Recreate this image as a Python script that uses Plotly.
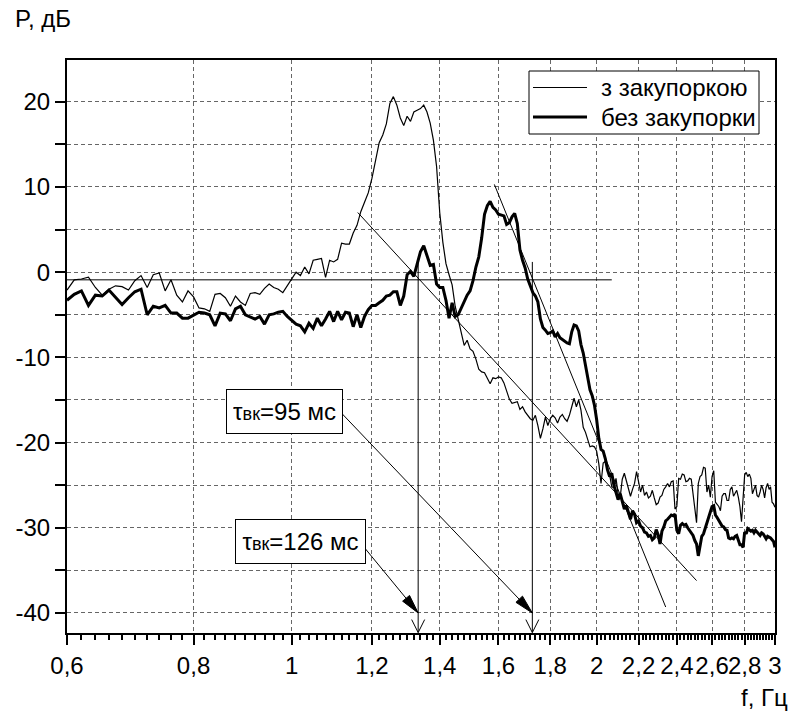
import math
import plotly.graph_objects as go

# ---------------- data ----------------
freq = [0.60, 0.61, 0.62, 0.63, 0.64, 0.65, 0.66, 0.67, 0.68, 0.69,
        0.70, 0.71, 0.72, 0.73, 0.74, 0.75, 0.76, 0.77, 0.78, 0.79,
        0.80, 0.81, 0.82, 0.83, 0.84, 0.85, 0.86, 0.87, 0.88, 0.89,
        0.90, 0.91, 0.92, 0.93, 0.94, 0.95, 0.96, 0.97, 0.98, 0.99,
        1.00, 1.01, 1.02, 1.03, 1.04, 1.05, 1.06, 1.07, 1.08, 1.09,
        1.10, 1.11, 1.12, 1.13, 1.14, 1.15, 1.16, 1.17, 1.18, 1.19,
        1.20, 1.21, 1.22, 1.23, 1.24, 1.25, 1.26, 1.27, 1.28, 1.29,
        1.30, 1.31, 1.32, 1.33, 1.34, 1.35, 1.36, 1.37, 1.38, 1.39,
        1.40, 1.41, 1.42, 1.43, 1.44, 1.45, 1.46, 1.47, 1.48, 1.49,
        1.50, 1.51, 1.52, 1.53, 1.54, 1.55, 1.56, 1.57, 1.58, 1.59,
        1.60, 1.61, 1.62, 1.63, 1.64, 1.65, 1.66, 1.67, 1.68, 1.69,
        1.70, 1.71, 1.72, 1.73, 1.74, 1.75, 1.76, 1.77, 1.78, 1.79,
        1.80, 1.81, 1.82, 1.83, 1.84, 1.85, 1.86, 1.87, 1.88, 1.89,
        1.90, 1.91, 1.92, 1.93, 1.94, 1.95, 1.96, 1.97, 1.98, 1.99,
        2.00, 2.01, 2.02, 2.03, 2.04, 2.05, 2.06, 2.07, 2.08, 2.09,
        2.10, 2.11, 2.12, 2.13, 2.14, 2.15, 2.16, 2.17, 2.18, 2.19,
        2.20, 2.21, 2.22, 2.23, 2.24, 2.25, 2.26, 2.27, 2.28, 2.29,
        2.30, 2.31, 2.32, 2.33, 2.34, 2.35, 2.36, 2.37, 2.38, 2.39,
        2.40, 2.41, 2.42, 2.43, 2.44, 2.45, 2.46, 2.47, 2.48, 2.49,
        2.50, 2.51, 2.52, 2.53, 2.54, 2.55, 2.56, 2.57, 2.58, 2.59,
        2.60, 2.61, 2.62, 2.63, 2.64, 2.65, 2.66, 2.67, 2.68, 2.69,
        2.70, 2.71, 2.72, 2.73, 2.74, 2.75, 2.76, 2.77, 2.78, 2.79,
        2.80, 2.81, 2.82, 2.83, 2.84, 2.85, 2.86, 2.87, 2.88, 2.89,
        2.90, 2.91, 2.92, 2.93, 2.94, 2.95, 2.96, 2.97, 2.98, 2.99,
        3.00]

# "з закупоркою" (thin line), dB
p_with = [-2.1, -0.9, -0.8, -0.6, -1.8, -2.7, -2.0, -1.6, -1.7, -2.1,
          -1.0, -0.4, -1.8, -0.3, -0.1, -2.2, -0.9, -2.7, -3.5, -2.2,
          -2.9, -4.2, -4.3, -4.6, -2.6, -2.5, -3.0, -4.0, -2.8, -3.5,
          -3.9, -2.5, -2.4, -2.6, -1.9, -1.4, -1.8, -2.0, -2.4, -1.6,
          -0.8, 0.0, -0.4, 0.6, -0.2, 1.4, 1.5, 1.6, -0.6, 1.4,
          1.2, 1.5, 3.4, 3.3, 3.3, 4.6, 5.5, 7.1, 8.2, 9.3,
          11.0, 13.3, 15.2, 16.1, 17.4, 19.8, 20.6, 19.6, 18.1, 17.2,
          18.3, 17.7, 18.8, 19.0, 19.2, 19.6, 18.8, 17.5, 15.5, 12.4,
          7.0, 3.5, 1.0, -0.3, -1.5, -4.0, -5.6, -6.8, -8.6, -8.0,
          -9.0, -9.3, -10.2, -11.4, -11.7, -11.8, -12.5, -13.1, -12.4, -12.5,
          -12.3, -12.4, -13.0, -13.9, -14.9, -15.4, -15.3, -15.2, -16.1, -15.8,
          -16.4, -16.8, -17.2, -17.4, -16.8, -18.0, -19.5, -18.4, -17.0, -18.0,
          -17.2, -16.8, -17.1, -17.7, -17.0, -16.7, -17.2, -17.5, -16.8, -15.8,
          -14.8, -15.8, -15.0, -16.2, -18.2, -18.8, -19.6, -20.5, -20.4, -20.5,
          -21.0, -22.5, -24.8, -22.4, -22.2, -23.0, -23.8, -25.2, -25.3, -24.2,
          -26.0, -26.4, -24.3, -23.6, -24.5, -25.3, -26.3, -25.5, -24.8, -23.4,
          -24.5, -25.8, -25.0, -26.2, -25.8, -26.5, -26.3, -25.6, -26.5, -27.3,
          -27.1, -26.4, -26.2, -25.5, -25.2, -24.8, -25.2, -24.6, -24.5, -27.8,
          -27.5, -24.2, -24.3, -23.7, -23.8, -24.6, -24.5, -24.2, -24.3, -26.0,
          -27.5, -29.4, -24.8, -24.0, -23.8, -22.9, -23.0, -25.8, -25.0, -26.4,
          -24.0, -23.3, -27.0, -27.2, -27.5, -28.0, -26.3, -26.0, -26.0, -26.8,
          -26.8, -25.5, -25.2, -26.3, -26.0, -25.6, -26.4, -27.5, -29.3, -26.0,
          -23.8, -23.5, -24.0, -23.7, -24.2, -26.0, -25.5, -25.0, -26.2, -26.4,
          -25.8, -25.0, -25.5, -26.5, -25.3, -24.8, -25.5, -25.2, -27.0, -27.2,
          -27.6]

# "без закупорки" (thick line), dB
p_without = [-3.3, -2.6, -2.2, -3.9, -2.7, -2.8, -2.1, -2.9, -3.8, -3.0,
             -2.3, -2.0, -5.0, -4.0, -4.2, -3.9, -4.8, -4.8, -5.4, -5.4,
             -5.0, -4.7, -4.8, -5.0, -6.3, -4.8, -4.9, -5.7, -4.3, -4.0,
             -5.0, -5.3, -5.5, -5.2, -6.1, -5.0, -4.9, -4.7, -4.6, -5.2,
             -5.6, -6.1, -6.3, -7.0, -6.0, -6.6, -5.4, -6.3, -5.5, -4.6,
             -5.8, -4.6, -5.6, -4.7, -4.8, -6.4, -5.0, -6.5, -5.2, -4.4,
             -3.9, -3.9, -3.6, -3.3, -2.8, -2.7, -2.3, -2.3, -3.9, -2.8,
             -0.3, 0.1, -0.5, 1.1, 2.4, 3.1, 2.0, 0.8, 0.9, -1.4,
             -1.8, -1.8, -3.3, -5.4, -3.6, -5.2, -5.0, -4.2, -3.5, -2.7,
             -2.2, -1.0, 0.6, 1.8, 4.0, 6.8, 7.8, 8.3, 7.6, 7.3,
             6.8, 6.7, 6.6, 5.6, 5.8, 6.5, 6.9, 5.7, 2.6, 1.4,
             0.5, -0.8, -1.7, -2.4, -2.8, -3.5, -5.5, -6.5, -6.8, -7.2,
             -7.1, -6.9, -7.6, -7.2, -7.7, -7.9, -8.2, -8.3, -8.4, -7.0,
             -6.2, -6.3, -6.9, -8.5, -9.5, -11.0, -12.2, -13.8, -14.5, -15.6,
             -17.3, -19.5, -20.8, -21.0, -21.9, -23.2, -24.0, -23.6, -25.0, -25.8,
             -26.7, -26.0, -26.9, -27.8, -27.4, -28.2, -29.0, -28.0, -28.4, -29.4,
             -29.2, -29.8, -30.0, -30.5, -30.6, -31.0, -30.9, -31.4, -31.2, -30.2,
             -30.8, -31.9, -30.4, -29.9, -29.2, -29.0, -28.8, -28.5, -28.6, -28.4,
             -30.3, -30.7, -29.7, -29.5, -29.7, -29.6, -30.0, -30.3, -30.6, -30.9,
             -31.5, -31.9, -33.3, -32.2, -31.0, -30.7, -30.0, -29.5, -28.8, -28.0,
             -27.5, -27.4, -28.5, -28.8, -29.2, -29.4, -29.8, -29.9, -30.2, -30.3,
             -31.2, -31.3, -31.2, -31.3, -31.0, -30.9, -31.6, -32.0, -32.0, -32.3,
             -30.5, -30.7, -30.1, -30.2, -30.4, -30.3, -30.6, -30.3, -30.5, -30.7,
             -30.9, -30.6, -30.7, -31.0, -31.3, -31.0, -31.1, -31.2, -31.4, -31.6,
             -32.3]

series_names = ['з закупоркою', 'без закупорки']
series_widths = [1.2, 3]

x_tick_vals = [0.6, 0.8, 1.0, 1.2, 1.4, 1.6, 1.8, 2.0, 2.2, 2.4, 2.6, 2.8, 3.0]
x_tick_text = ['0,6', '0,8', '1', '1,2', '1,4', '1,6', '1,8', '2', '2,2', '2,4', '2,6', '2,8', '3']
x_minor_vals = [round(0.6 + 0.02 * i, 2) for i in range(121)]
y_tick_vals = [-40, -35, -30, -25, -20, -15, -10, -5, 0, 5, 10, 15, 20]
y_tick_text = ['-40', '', '-30', '', '-20', '', '-10', '', '0', '', '10', '', '20']

# construction lines (frequency, dB)
hline_f, hline_db = [0.6, 2.07], [-0.9, -0.9]
vline1_f, vline1_db = [1.333, 1.333], [1.5, -42.3]
vline2_f, vline2_db = [1.728, 1.728], [1.2, -42.3]
tan1_f, tan1_db = [1.162, 2.51], [7.0, -36.2]
tan2_f, tan2_db = [1.585, 2.34], [10.3, -39.3]
arrow95_f, arrow95_db = [1.121, 1.728], [-16.6, -40.0]
arrow126_f, arrow126_db = [1.181, 1.333], [-32.4, -40.0]
box95_pos = (0.984, -16.35)
box126_pos = (1.020, -31.6)

FONT = "Liberation Sans, Arial, sans-serif"

# plot-area geometry (fixed margins, fixed ranges)
X_RANGE = [math.log10(0.6), math.log10(3.0)]
Y_RANGE = [-42.35, 24.9]
W, H = 792, 716
M_L, M_R, M_T, M_B = 67, 17, 60, 83
PW, PH = W - M_L - M_R, H - M_T - M_B

def to_px(f, db):
    return (M_L + PW * (math.log10(f) - X_RANGE[0]) / (X_RANGE[1] - X_RANGE[0]),
            M_T + PH * (Y_RANGE[1] - db) / (Y_RANGE[1] - Y_RANGE[0]))

def from_px(X, Y):
    return (10 ** (X_RANGE[0] + (X - M_L) / PW * (X_RANGE[1] - X_RANGE[0])),
            Y_RANGE[1] - (Y - M_T) / PH * (Y_RANGE[1] - Y_RANGE[0]))

def head(tail, tip, length, half):
    x0, y0 = to_px(*tail)
    x1, y1 = to_px(*tip)
    d = math.hypot(x1 - x0, y1 - y0)
    ux, uy = (x1 - x0) / d, (y1 - y0) / d
    bx, by = x1 - ux * length, y1 - uy * length
    nx, ny = -uy, ux
    pts = [(bx + nx * half, by + ny * half), (x1, y1), (bx - nx * half, by - ny * half)]
    conv = [from_px(X, Y) for X, Y in pts]
    return [c[0] for c in conv], [c[1] for c in conv]

fig = go.Figure()

def thin_line(xs, ys):
    fig.add_trace(go.Scatter(x=xs, y=ys, mode='lines', line=dict(color='black', width=1),
                             showlegend=False, hoverinfo='skip'))

for xs, ys in [(hline_f, hline_db), (vline1_f, vline1_db), (vline2_f, vline2_db),
               (tan1_f, tan1_db), (tan2_f, tan2_db), (arrow95_f, arrow95_db), (arrow126_f, arrow126_db)]:
    thin_line(xs, ys)

# open "V" heads at the foot of the vertical lines
for xs, ys in [(vline1_f, vline1_db), (vline2_f, vline2_db)]:
    hx, hy = head((xs[0], ys[0]), (xs[1], ys[1]), 13, 6.5)
    thin_line(hx, hy)

# filled heads of the slanted arrows
for xs, ys in [(arrow95_f, arrow95_db), (arrow126_f, arrow126_db)]:
    hx, hy = head((xs[0], ys[0]), (xs[1], ys[1]), 19, 4.5)
    fig.add_trace(go.Scatter(x=hx + [hx[0]], y=hy + [hy[0]], mode='lines', fill='toself',
                             fillcolor='black', line=dict(color='black', width=1),
                             showlegend=False, hoverinfo='skip'))

for ys, name, w in zip([p_with, p_without], series_names, series_widths):
    fig.add_trace(go.Scatter(x=freq, y=ys, mode='lines', name=name,
                             line=dict(color='black', width=w), showlegend=False))

for (bx, by), label, wbox in [(box95_pos, '95 мс', 103), (box126_pos, '126 мс', 117)]:
    fig.add_annotation(x=math.log10(bx), y=by, xref='x', yref='y', showarrow=False,
                       text="τ<span style='font-size:18px'>вк</span>=" + label,
                       font=dict(family=FONT, size=24, color='black'), width=wbox, height=31,
                       bgcolor='white', bordercolor='black', borderwidth=1, borderpad=6)

fig.add_annotation(x=-0.0763, y=1.072, xref='paper', yref='paper', xanchor='left', yanchor='middle',
                   text='P, дБ', showarrow=False, font=dict(family=FONT, size=24, color='black'))
fig.add_annotation(x=1.0212, y=-0.1134, xref='paper', yref='paper', xanchor='right', yanchor='middle',
                   text='f, Гц', showarrow=False, font=dict(family=FONT, size=24, color='black'))

# legend box (drawn in paper coordinates)
px = lambda X: (X - M_L) / PW
py = lambda Y: (M_T + PH - Y) / PH
fig.add_shape(type='rect', xref='paper', yref='paper', x0=px(529), x1=px(759), y0=py(134), y1=py(71),
              line=dict(color='black', width=1), fillcolor='white', layer='above')
for row_y, name, w in zip([87.5, 117], series_names, [1, 3]):
    fig.add_shape(type='line', xref='paper', yref='paper', x0=px(533), x1=px(587), y0=py(row_y), y1=py(row_y),
                  line=dict(color='black', width=w), layer='above')
    fig.add_annotation(x=px(599), y=py(row_y), xref='paper', yref='paper', xanchor='left', yanchor='middle',
                       text=name, showarrow=False, font=dict(family=FONT, size=24, color='black'))

axis_common = dict(showline=True, linecolor='black', linewidth=2, mirror=True,
                   ticks='outside', ticklen=10, tickwidth=2, tickcolor='black',
                   showgrid=True, gridcolor='#666666', gridwidth=1, griddash='4px,3px',
                   zeroline=False, automargin=False, tickangle=0,
                   tickfont=dict(family=FONT, size=24, color='black'))

fig.update_xaxes(type='log', range=X_RANGE,
                 tickvals=x_tick_vals, ticktext=x_tick_text,
                 minor=dict(tickvals=x_minor_vals, ticks='outside', ticklen=5, tickwidth=1.5,
                            tickcolor='black', showgrid=False),
                 **axis_common)
fig.update_yaxes(range=Y_RANGE, tickvals=y_tick_vals, ticktext=y_tick_text, **axis_common)

fig.update_layout(width=W, height=H, margin=dict(l=M_L, r=M_R, t=M_T, b=M_B),
                  paper_bgcolor='white', plot_bgcolor='white',
                  font=dict(family=FONT, size=24, color='black'),
                  showlegend=False)

fig.write_html("out.html")
